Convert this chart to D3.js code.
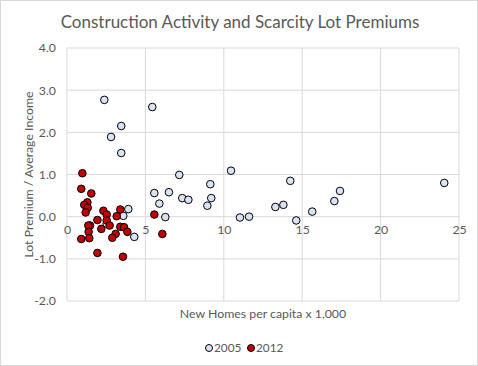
<!DOCTYPE html>
<html>
<head>
<meta charset="utf-8">
<script src="https://cdn.jsdelivr.net/npm/d3@7"></script>
<style>
  body { margin: 0; background: #fff; }
  text { font-family: Lato, "Open Sans", sans-serif; fill: #595959; }
</style>
</head>
<body>
<div id="chart-area"></div>
<script>
// data: [homes per capita x 1000, lot premium / income]
const homes2005 = [2.38, 5.44, 3.46, 2.81, 3.46, 3.91, 3.59, 4.29, 5.57, 6.50, 5.89, 6.27, 7.16, 10.46, 9.14, 7.35,
    7.74, 9.20, 8.95, 11.03, 11.61, 13.29, 13.80, 14.24, 14.62, 15.64, 17.05, 17.41, 24.06, 2.53];
const premium2005 = [2.77, 2.60, 2.15, 1.89, 1.51, 0.18, 0.02, -0.48, 0.56, 0.58, 0.31, -0.01, 0.99, 1.09, 0.77, 0.44,
    0.40, 0.44, 0.26, -0.02, 0.00, 0.23, 0.28, 0.85, -0.09, 0.12, 0.37, 0.61, 0.80, -0.17];

const homes2012 = [0.98, 0.91, 1.55, 1.30, 1.10, 1.32, 1.19, 2.32, 2.53, 3.40, 3.17, 1.94, 2.53, 2.72, 2.19, 1.47,
    1.36, 1.38, 3.40, 3.64, 3.85, 3.10, 2.89, 1.42, 0.91, 1.94, 3.57, 5.57, 6.08];
const premium2012 = [1.03, 0.66, 0.55, 0.34, 0.28, 0.21, 0.10, 0.14, 0.05, 0.17, 0.01, -0.08, -0.09, -0.21, -0.29, -0.21,
    -0.21, -0.36, -0.24, -0.25, -0.36, -0.41, -0.50, -0.51, -0.53, -0.86, -0.95, 0.05, -0.41];

const xTicks = [0, 5, 10, 15, 20, 25];
const yTicks = [-2, -1, 0, 1, 2, 3, 4];

const width = 478;
const height = 366;

const svg = d3.select("#chart-area").append("svg")
    .attr("width", width)
    .attr("height", height);

// chart border
svg.append("rect")
    .attr("x", 0.5).attr("y", 0.5)
    .attr("width", width - 1).attr("height", height - 1)
    .attr("fill", "#fff")
    .attr("stroke", "#d9d9d9");

const x = d3.scaleLinear().domain([0, 25]).range([67, 459]);
const y = d3.scaleLinear().domain([-2, 4]).range([301, 48]);

// gridlines
svg.append("g").selectAll("line")
    .data(yTicks)
    .join("line")
    .attr("x1", x(0)).attr("x2", x(25))
    .attr("y1", d => y(d)).attr("y2", d => y(d))
    .attr("stroke", "#d9d9d9");

svg.append("g").selectAll("line")
    .data(xTicks)
    .join("line")
    .attr("x1", d => x(d)).attr("x2", d => x(d))
    .attr("y1", y(-2)).attr("y2", y(4))
    .attr("stroke", "#d9d9d9");

// y tick labels (plain hyphen, like the original)
svg.append("g")
    .attr("transform", `translate(${x(0)},0)`)
    .call(d3.axisLeft(y).tickValues(yTicks).tickFormat(d => d.toFixed(1)).tickSize(0).tickPadding(11))
    .call(g => g.select(".domain").remove())
    .selectAll("text")
    .attr("font-size", 12.3)
    .attr("font-family", "Lato")
    .attr("fill", "#595959");

// x tick labels sit under the zero line
svg.append("g")
    .attr("transform", `translate(0,${y(0)})`)
    .call(d3.axisBottom(x).tickValues(xTicks).tickSize(0).tickPadding(9))
    .call(g => g.select(".domain").remove())
    .selectAll("text")
    .attr("font-size", 12.3)
    .attr("font-family", "Lato")
    .attr("fill", "#595959");

const pts2005 = homes2005.map((h, i) => ({ x: h, y: premium2005[i] }));
const pts2012 = homes2012.map((h, i) => ({ x: h, y: premium2012[i] }));

svg.append("g").selectAll("circle")
    .data(pts2005)
    .join("circle")
    .attr("cx", d => x(d.x))
    .attr("cy", d => y(d.y))
    .attr("r", 3.8)
    .attr("fill", "#dae3f3")
    .attr("stroke", "#000")
    .attr("stroke-width", 1);

svg.append("g").selectAll("circle")
    .data(pts2012)
    .join("circle")
    .attr("cx", d => x(d.x))
    .attr("cy", d => y(d.y))
    .attr("r", 3.8)
    .attr("fill", "#c00000")
    .attr("stroke", "#000")
    .attr("stroke-width", 1);

// titles
svg.append("text")
    .attr("x", 240).attr("y", 28)
    .attr("text-anchor", "middle")
    .attr("font-size", 17)
    .text("Construction Activity and Scarcity Lot Premiums");

svg.append("text")
    .attr("x", 263).attr("y", 318)
    .attr("text-anchor", "middle")
    .attr("font-size", 12.3)
    .text("New Homes per capita x 1,000");

svg.append("text")
    .attr("transform", `translate(33,${(y(-2) + y(4)) / 2}) rotate(-90)`)
    .attr("text-anchor", "middle")
    .attr("font-size", 12.3)
    .text("Lot Premium / Average Income");

// legend
const legend = svg.append("g").attr("transform", "translate(0,348)");
const items = [
    { label: "2005", fill: "#dae3f3", cx: 209 },
    { label: "2012", fill: "#c00000", cx: 251 }
];
const li = legend.selectAll("g").data(items).join("g")
    .attr("transform", d => `translate(${d.cx},0)`);
li.append("circle")
    .attr("r", 3.5)
    .attr("fill", d => d.fill)
    .attr("stroke", "#000");
li.append("text")
    .attr("x", 5).attr("y", 4.3)
    .attr("font-size", 11.8)
    .text(d => d.label);
</script>
</body>
</html>
